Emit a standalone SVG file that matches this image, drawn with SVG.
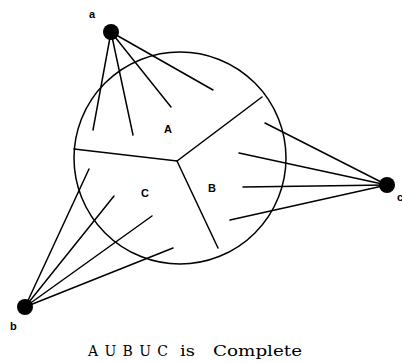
<svg xmlns="http://www.w3.org/2000/svg" width="402" height="363" viewBox="0 0 402 363">
<style>
.l{stroke:#000;stroke-width:1.5;fill:none;stroke-linecap:round}
.n{fill:#000}
.lb{font-family:"Liberation Sans",Arial,sans-serif;font-weight:bold;font-size:11px;fill:#000}
.cap{font-family:"DejaVu Serif","Liberation Serif",serif;font-size:14px;fill:#000}
</style>
<rect width="402" height="363" fill="#fff"/>
<g id="region">
<circle class="l" cx="180" cy="158" r="106"/>
<polyline class="l" points="74,149 177,161 262,97"/>
<line class="l" x1="177" y1="161" x2="218" y2="248"/>
<text class="lb" x="164" y="133">A</text>
<text class="lb" x="208" y="192">B</text>
<text class="lb" x="141" y="197">C</text>
</g>
<g id="connectors">
<line class="l" x1="111" y1="32" x2="93" y2="130"/>
<line class="l" x1="111" y1="32" x2="133" y2="135"/>
<line class="l" x1="111" y1="32" x2="171" y2="107"/>
<line class="l" x1="111" y1="32" x2="213" y2="90"/>
<line class="l" x1="25" y1="307" x2="89" y2="169"/>
<line class="l" x1="25" y1="307" x2="114" y2="196"/>
<line class="l" x1="25" y1="307" x2="152" y2="216"/>
<line class="l" x1="25" y1="307" x2="173" y2="248"/>
<line class="l" x1="387" y1="185" x2="265" y2="123"/>
<line class="l" x1="387" y1="185" x2="239" y2="153"/>
<line class="l" x1="387" y1="185" x2="243" y2="187"/>
<line class="l" x1="387" y1="185" x2="230" y2="220"/>
</g>
<g id="node-a"><circle class="n" cx="111" cy="32" r="8"/><text class="lb" x="89" y="18">a</text></g>
<g id="node-b"><circle class="n" cx="25" cy="307" r="8"/><text class="lb" x="10" y="330">b</text></g>
<g id="node-c"><circle class="n" cx="387" cy="185" r="8"/><text class="lb" x="397" y="201">c</text></g>
<g id="caption">
<text class="cap" x="88" y="356" textLength="80" lengthAdjust="spacing">A U B U C</text>
<text class="cap" x="180" y="356" textLength="15" lengthAdjust="spacingAndGlyphs">is</text>
<text class="cap" x="213" y="356" textLength="89" lengthAdjust="spacingAndGlyphs">Complete</text>
</g>
</svg>
